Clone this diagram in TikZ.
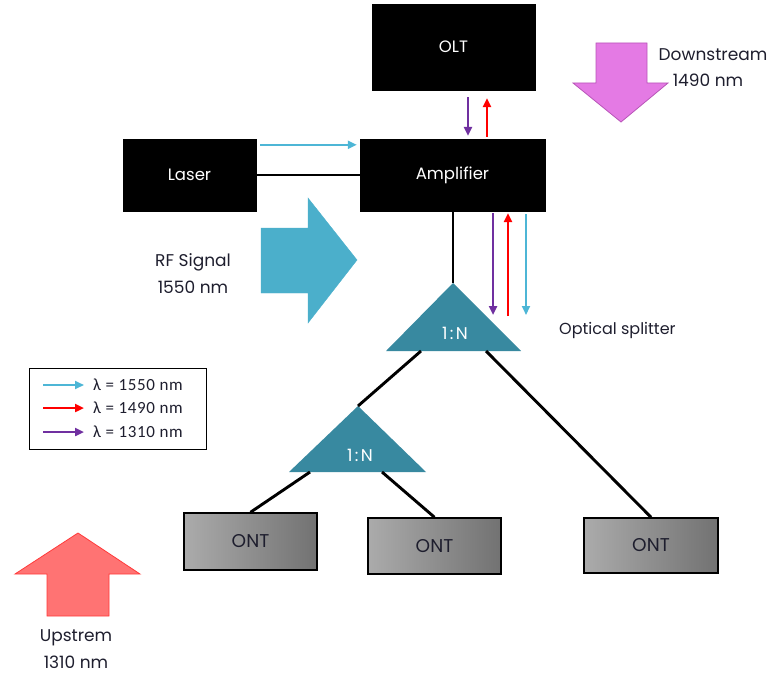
\documentclass[tikz,border=0pt]{standalone}
\usepackage{fontspec}
\setmainfont{Poppins}
\newfontfamily\legfont[LetterSpace=4]{Carlito}
\newfontfamily\wideps[LetterSpace=14]{Poppins}
\usetikzlibrary{arrows.meta,calc}
\definecolor{teal1}{HTML}{3889A0}
\definecolor{rfblue}{HTML}{4BAFCB}
\definecolor{cyanarr}{HTML}{4DB6D6}
\definecolor{purparr}{HTML}{7030A0}
\definecolor{pinkfill}{HTML}{E47AE4}
\definecolor{pinkline}{HTML}{B855B8}
\definecolor{upfill}{HTML}{FF7373}
\definecolor{upline}{HTML}{FF3A3A}
\definecolor{txtdark}{HTML}{1E1E2E}
\definecolor{ontlight}{HTML}{ABABAB}
\definecolor{ontdark}{HTML}{727272}
\tikzset{
  blackbox/.style={fill=black, draw=black, text=white, font=\fontsize{16.5}{18}\selectfont, inner sep=0pt},
  ontbox/.style={draw=black, line width=1.5pt, left color=ontlight, right color=ontdark,
     text=txtdark, font=\fontsize{18.5}{20}\selectfont, inner sep=0pt},
  splitter/.style={fill=teal1, draw=none},
  splittxt/.style={text=white, font=\wideps\fontsize{17}{19}\selectfont},
  fiber/.style={draw=black, line width=2.9pt},
  cyanline/.style={draw=cyanarr, line width=2pt, -{Triangle[length=9pt,width=8pt]}},
  redline/.style={draw=red, line width=2.7pt, -{Triangle[length=9pt,width=8pt]}},
  purpline/.style={draw=purparr, line width=2.7pt, -{Triangle[length=9pt,width=8pt]}},
  lbl/.style={text=txtdark, font=\fontsize{17}{19}\selectfont, align=center, inner sep=0pt},
  legtxt/.style={text=txtdark, font=\legfont\fontsize{17}{19}\selectfont, anchor=west, inner sep=0pt}
}
\begin{document}
\begin{tikzpicture}[x=1pt,y=-1pt]
\useasboundingbox (0,0) rectangle (775,674);

% big arrows
\draw[fill=rfblue, draw=rfblue] (261,228) -- (308,228) -- (308,198) -- (357,260) -- (308,323) -- (308,293) -- (261,293) -- cycle;
\draw[fill=pinkfill, draw=pinkline, line width=0.8pt] (596,43) -- (647,43) -- (647,83) -- (668,83) -- (621,122) -- (573,83) -- (596,83) -- cycle;
\draw[fill=upfill, draw=upline, line width=0.8pt] (78,533) -- (140,574) -- (109,574) -- (109,616) -- (47,616) -- (47,574) -- (15,574) -- cycle;

% boxes
\node[blackbox, minimum width=163pt, minimum height=86pt] (olt) at (453.5,47) {OLT};
\node[blackbox, minimum width=185pt, minimum height=72pt] (amp) at (452.5,175) {Amplifier};
\node[blackbox, minimum width=133pt, minimum height=72pt] (laser) at (189.5,175) {Laser};
\node[ontbox, minimum width=133pt, minimum height=57pt] (ont1) at (250.5,541.5) {ONT};
\node[ontbox, minimum width=133pt, minimum height=56pt] (ont2) at (434.5,546) {ONT};
\node[ontbox, minimum width=134pt, minimum height=55pt] (ont3) at (651,545.5) {ONT};

% splitters
\coordinate (s1top) at (453,283);
\coordinate (s1l) at (421,351);
\coordinate (s1r) at (486,351);
\fill[splitter] (s1top) -- (521,351) -- (386,351) -- cycle;
\node[splittxt] (s1) at (455,333) {1:N};
\coordinate (s2top) at (358,406);
\coordinate (s2l) at (310,472);
\coordinate (s2r) at (382,472);
\fill[splitter] (s2top) -- (426,472) -- (289,472) -- cycle;
\node[splittxt] (s2) at (360,455) {1:N};

% fibers
\draw[fiber] (laser.east) -- (amp.west);
\draw[fiber] (amp.south -| s1top) -- (s1top);
\draw[fiber] (s1l) -- (s2top);
\draw[fiber] (s1r) -- (ont3.north);
\draw[fiber] (s2l) -- (ont1.north);
\draw[fiber] (s2r) -- (ont2.north);

% wavelength arrows
\draw[cyanline] ($(laser.north east)+(4,6)$) -- ($(amp.north west)+(-3,6)$);
\draw[purpline] ($(olt.south)+(14.5,7)$) -- ($(amp.north)+(15.5,-3)$);
\draw[redline] ($(amp.north)+(34.5,-2)$) -- ($(olt.south)+(33.5,8)$);
\coordinate (pe) at (493,315);
\coordinate (rs) at (508,316);
\coordinate (ce) at (526,315);
\draw[purpline] ($(amp.south)+(40.5,2)$) -- (pe);
\draw[redline] (rs) -- ($(amp.south)+(55.5,2)$);
\draw[cyanline] ($(amp.south)+(73.5,3)$) -- (ce);

% labels
\node[lbl] (dsl) at (713,55) {Downstream};
\node[lbl] (dsn) at (708,80) {1490 nm};
\node[lbl] (rfl) at (193,262) {RF Signal};
\node[lbl] (rfn) at (193,287) {1550 nm};
\node[lbl, anchor=west, font=\fontsize{16}{18}\selectfont] (osp) at (559,330) {Optical splitter};
\node[lbl] (upl) at (76,638) {Upstrem};
\node[lbl] (upn) at (76,662) {1310 nm};

% legend
\node[draw=black, line width=1pt, minimum width=177pt, minimum height=81pt, inner sep=0pt] (leg) at (117.5,408.5) {};
\coordinate (l1a) at (43,385); \coordinate (l1b) at (84,385);
\coordinate (l2a) at (43,408); \coordinate (l2b) at (84,408);
\coordinate (l3a) at (43,432); \coordinate (l3b) at (84,432);
\draw[cyanline] (l1a) -- (l1b);
\draw[redline] (l2a) -- (l2b);
\draw[purpline] (l3a) -- (l3b);
\node[legtxt] (t1) at (93,385) {λ = 1550 nm};
\node[legtxt] (t2) at (93,408) {λ = 1490 nm};
\node[legtxt] (t3) at (93,432) {λ = 1310 nm};
\end{tikzpicture}
\end{document}
